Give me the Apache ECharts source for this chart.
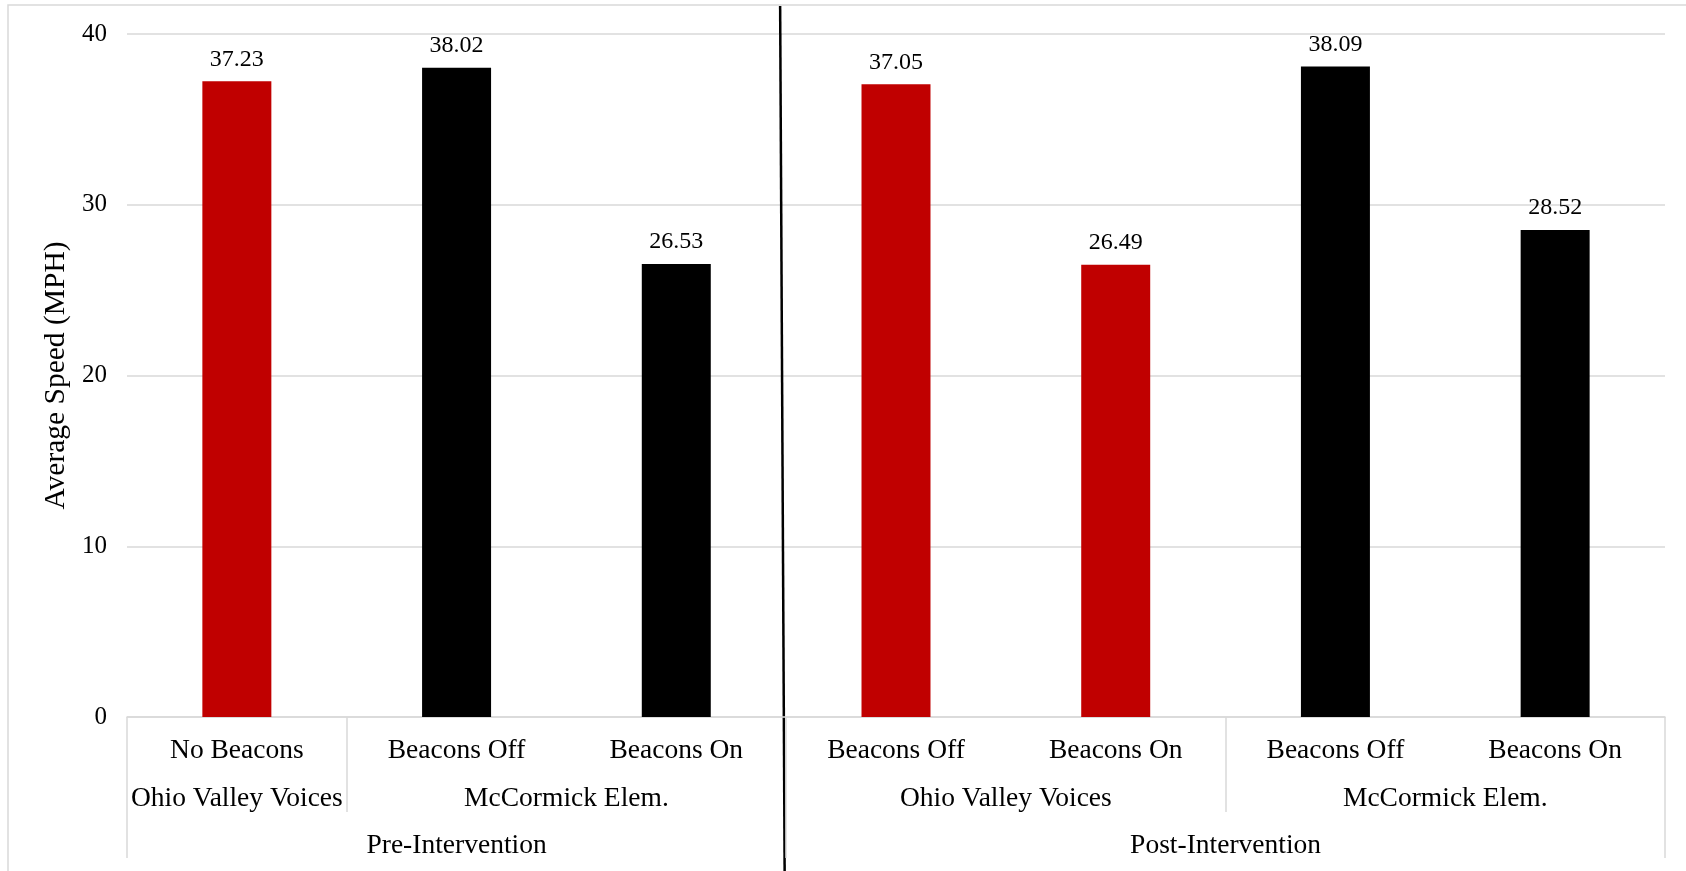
<!DOCTYPE html>
<html>
<head>
<meta charset="utf-8">
<script src="https://cdn.jsdelivr.net/npm/echarts@6/dist/echarts.min.js"></script>
<style>
  html, body { margin: 0; padding: 0; background: #fff; }
  #chart { width: 1686px; height: 871px; }
</style>
</head>
<body>
<div id="chart"></div>
<script>
// innermost level (one per bar)
const conditions = ['No Beacons', 'Beacons Off', 'Beacons On', 'Beacons Off', 'Beacons On', 'Beacons Off', 'Beacons On']
const speeds = [37.23, 38.02, 26.53, 37.05, 26.49, 38.09, 28.52]
const barSchools = ['Ohio Valley Voices', 'McCormick Elem.', 'McCormick Elem.', 'Ohio Valley Voices', 'Ohio Valley Voices', 'McCormick Elem.', 'McCormick Elem.']
// second level
const schools = ['Ohio Valley Voices', 'McCormick Elem.', 'Ohio Valley Voices', 'McCormick Elem.']
const schoolSpans = [1, 2, 2, 2]
// third level
const phases = ['Pre-Intervention', 'Post-Intervention']
const phaseSpans = [3, 4]
const yTicks = [0, 10, 20, 30, 40]

const schoolColors = { 'Ohio Valley Voices': '#C00000', 'McCormick Elem.': '#000000' }
const FONT = '"Liberation Serif", "Times New Roman", serif'
const GRAY = '#d9d9d9'

// group axes use 2*n+1 points (half a category each), label sits at group center
function halfSlots (names, spans) {
  const arr = new Array(conditions.length * 2 + 1).fill('')
  let s = 0
  spans.forEach((n, i) => {
    arr[2 * s + n] = names[i]
    s += n
  })
  return arr
}
function bounds (spans) {
  const out = [0]
  let s = 0
  spans.forEach(n => { s += n; out.push(2 * s) })
  return out
}
const outerBounds = bounds(phaseSpans)
const innerBounds = bounds(schoolSpans).filter(k => outerBounds.indexOf(k) < 0)

const chart = echarts.init(document.getElementById('chart'))

const labelBase = { fontFamily: FONT, fontSize: 27.5, color: '#000' }

chart.setOption({
  animation: false,
  grid: { left: 127, right: 21, top: 34, bottom: 154, containLabel: false },
  xAxis: [
    {
      type: 'category',
      data: conditions,
      axisLine: { lineStyle: { color: GRAY, width: 1.5 } },
      axisTick: { show: false },
      axisLabel: Object.assign({ interval: 0, margin: 20 }, labelBase)
    },
    {
      type: 'category',
      position: 'bottom',
      boundaryGap: false,
      data: halfSlots(schools, schoolSpans),
      axisLine: { show: false },
      axisTick: {
        show: true,
        length: 95,
        interval: (i) => innerBounds.indexOf(i) >= 0,
        lineStyle: { color: GRAY, width: 1.5 }
      },
      axisLabel: Object.assign({ interval: 0, margin: 68 }, labelBase)
    },
    {
      type: 'category',
      position: 'bottom',
      boundaryGap: false,
      data: halfSlots(phases, phaseSpans),
      axisLine: { show: false },
      axisTick: {
        show: true,
        length: 141,
        interval: (i) => outerBounds.indexOf(i) >= 0,
        lineStyle: { color: GRAY, width: 1.5 }
      },
      axisLabel: Object.assign({ interval: 0, margin: 115 }, labelBase)
    }
  ],
  yAxis: {
    type: 'value',
    min: yTicks[0],
    max: yTicks[yTicks.length - 1],
    interval: 10,
    name: 'Average Speed (MPH)',
    nameLocation: 'middle',
    nameGap: 52,
    nameTextStyle: { fontFamily: FONT, fontSize: 29.5, color: '#000' },
    axisLine: { show: false },
    axisTick: { show: false },
    axisLabel: { fontFamily: FONT, fontSize: 25, color: '#000', margin: 20 },
    splitLine: { lineStyle: { color: GRAY, width: 1.5 } }
  },
  series: [
    {
      type: 'bar',
      xAxisIndex: 0,
      barWidth: '31.4%',
      data: speeds.map((v, i) => ({ value: v, itemStyle: { color: schoolColors[barSchools[i]] } })),
      label: {
        show: true,
        position: 'top',
        distance: 10,
        fontFamily: FONT,
        fontSize: 24,
        color: '#000',
        formatter: p => p.value.toFixed(2)
      }
    }
  ]
})

// divider between pre and post, drawn like the hand-placed line in the original
const xa = chart.convertToPixel({ xAxisIndex: 0 }, 2)
const xb = chart.convertToPixel({ xAxisIndex: 0 }, 3)
const split = (xa + xb) / 2
chart.setOption({
  graphic: [
    {
      type: 'rect',
      silent: true,
      shape: { x: 8, y: 5, width: 1720, height: 920 },
      style: { fill: 'none', stroke: GRAY, lineWidth: 1.5 }
    },
    {
      type: 'line',
      silent: true,
      shape: { x1: split - 6, y1: 6, x2: split - 1.5, y2: 871 },
      style: { stroke: '#000', lineWidth: 2.5 }
    }
  ]
})
</script>
</body>
</html>
